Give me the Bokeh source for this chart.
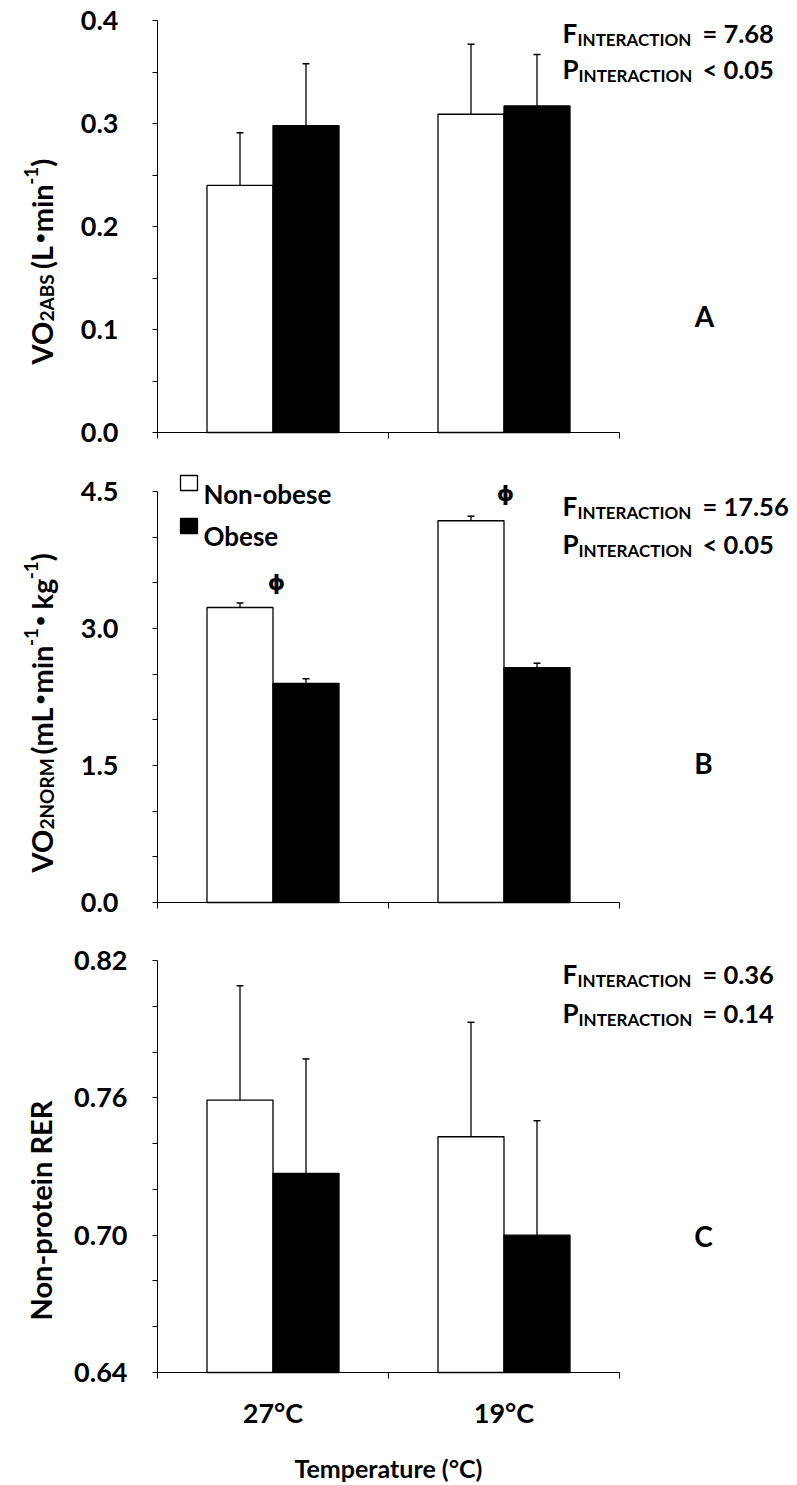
import math
from bokeh.plotting import figure
from bokeh.models import (FixedTicker, Label, Whisker, TeeHead, ColumnDataSource,
                          Range1d, PrintfTickFormatter, BoxAnnotation, LinearAxis)
from bokeh.layouts import column
from bokeh.embed import file_html
from bokeh.resources import INLINE

# ---------------- data ----------------
temps = ["27°C", "19°C"]
groups = ["Non-obese", "Obese"]

vo2abs_nonobese = [0.240, 0.309]
vo2abs_nonobese_err = [0.051, 0.068]
vo2abs_obese = [0.298, 0.317]
vo2abs_obese_err = [0.060, 0.050]

vo2norm_nonobese = [3.23, 4.18]
vo2norm_nonobese_err = [0.05, 0.05]
vo2norm_obese = [2.40, 2.57]
vo2norm_obese_err = [0.05, 0.05]

rer_nonobese = [0.759, 0.743]
rer_nonobese_err = [0.050, 0.050]
rer_obese = [0.727, 0.700]
rer_obese_err = [0.050, 0.050]

stats_a = ["= 7.68", "< 0.05"]
stats_b = ["= 17.56", "< 0.05"]
stats_c = ["= 0.36", "= 0.14"]

yticks_a = [0.0, 0.1, 0.2, 0.3, 0.4]
yminor_a = [0.05, 0.15, 0.25, 0.35]
yticks_b = [0.0, 1.5, 3.0, 4.5]
yminor_b = [0.5, 1.0, 2.0, 2.5, 3.5, 4.0]
yticks_c = [0.64, 0.70, 0.76, 0.82]
yminor_c = [0.66, 0.68, 0.72, 0.74, 0.78, 0.80]

# ---------------- layout constants (pixels) ----------------
FONT = "Lato"
BFONT = "DejaVu Sans"
WIDTH = 797
AX_LEFT, AX_RIGHT = 157, 619           # x axis from category 0 to 2

W = {' ': 0.193, '(': 0.32, ')': 0.32, '-': 0.37, '.': 0.25, '\u2022': 0.59,
     'A': 0.70, 'B': 0.66, 'C': 0.68, 'E': 0.57, 'I': 0.29, 'L': 0.50, 'M': 0.90,
     'N': 0.76, 'O': 0.78, 'R': 0.64, 'S': 0.53, 'V': 0.70, 'e': 0.52, 'g': 0.51,
     'i': 0.25, 'k': 0.53, 'm': 0.83, 'n': 0.56, 'o': 0.56, 'p': 0.56, 'r': 0.39,
     't': 0.37}
for d in "0123456789":
    W[d] = 0.58


def tw(s, size):
    return sum(W.get(c, 0.55) for c in s) * size


class Panel:
    def __init__(self, top, height, y0, y1, ax_top, ax_bottom):
        self.top = top
        self.height = height
        ppu_y = (ax_bottom - ax_top) / (y1 - y0)
        ys = y0 - (top + height - ax_bottom) / ppu_y
        ye = y1 + (ax_top - top) / ppu_y
        ppu_x = (AX_RIGHT - AX_LEFT) / 2.0
        xs = -AX_LEFT / ppu_x
        xe = 2 + (WIDTH - AX_RIGHT) / ppu_x
        self.p = figure(width=WIDTH, height=height, x_range=Range1d(xs, xe),
                        y_range=Range1d(ys, ye), min_border=0, min_border_left=0,
                        min_border_right=0, min_border_top=0, min_border_bottom=0,
                        toolbar_location=None, output_backend="svg", title=None,
                        x_axis_type=None, y_axis_type=None)
        p = self.p
        p.xgrid.visible = False
        p.ygrid.visible = False
        p.outline_line_color = None
        p.background_fill_color = "white"
        p.border_fill_color = "white"
        self.y0, self.y1 = y0, y1

    def lab(self, text, X, Y, size, align="left", baseline="alphabetic", angle=0.0, font=FONT):
        self.p.add_layout(Label(x=X, y=self.top + self.height - Y, x_units="screen",
                                y_units="screen", text=text, text_font=font,
                                text_font_size=f"{size}px", text_font_style="bold",
                                text_align=align, text_baseline=baseline, angle=angle,
                                text_color="black"))

    def vlabel(self, pieces, X, Ybottom):
        y = Ybottom
        for piece in pieces:
            text, size, shift = piece[:3]
            font = piece[3] if len(piece) > 3 else FONT
            lead = len(text) - len(text.lstrip(' '))
            y -= lead * W[' '] * size
            t = text.lstrip(' ')
            self.lab(t, X + shift, y, size, angle=math.pi / 2, font=font)
            y -= tw(t, size)

    def stats(self, vals, y1, y2):
        self.lab("F", 562, y1, 26)
        self.lab("INTERACTION", 577, y1 + 7, 17)
        self.lab(vals[0], 702, y1, 25.5)
        self.lab("P", 562, y2, 26)
        self.lab("INTERACTION", 578, y2 + 7, 17)
        self.lab(vals[1], 702, y2, 25.5)

    def box(self, x0, x1, yt, yb, color):
        H = self.top + self.height
        self.p.add_layout(BoxAnnotation(left=x0, right=x1, top=H - yt, bottom=H - yb,
                                        left_units="screen", right_units="screen",
                                        top_units="screen", bottom_units="screen",
                                        fill_color=color, fill_alpha=1,
                                        line_color="black", line_alpha=1, line_width=1.3))

    def axes(self, ticks, minor, fmt, standoff, bottom_labels=False):
        p = self.p
        ya = LinearAxis(fixed_location=0, bounds=(self.y0, self.y1),
                        ticker=FixedTicker(ticks=ticks, minor_ticks=minor),
                        formatter=PrintfTickFormatter(format=fmt))
        ya.major_tick_in = 0
        ya.major_tick_out = 5
        ya.minor_tick_in = 0
        ya.minor_tick_out = 5
        ya.axis_line_color = "black"
        ya.major_tick_line_color = "black"
        ya.minor_tick_line_color = "black"
        ya.major_label_text_font = FONT
        ya.major_label_text_font_style = "bold"
        ya.major_label_text_font_size = "27px"
        ya.major_label_text_color = "black"
        ya.major_label_standoff = standoff
        p.add_layout(ya, "left")

        if bottom_labels:
            tk = FixedTicker(ticks=[0.5, 1.5], minor_ticks=[0, 1, 2])
        else:
            tk = FixedTicker(ticks=[], minor_ticks=[0, 1, 2])
        xa = LinearAxis(fixed_location=self.y0, bounds=(0, 2), ticker=tk)
        xa.axis_line_color = "black"
        xa.minor_tick_line_color = "black"
        xa.minor_tick_in = 0
        xa.minor_tick_out = 6
        xa.major_tick_in = 0
        xa.major_tick_out = 0
        if bottom_labels:
            xa.major_label_overrides = {0.5: temps[0], 1.5: temps[1]}
            xa.major_label_text_font = FONT
            xa.major_label_text_font_style = "bold"
            xa.major_label_text_font_size = "27px"
            xa.major_label_text_color = "black"
            xa.major_label_standoff = 17
            xa.axis_label = "Temperature (°C)"
            xa.axis_label_text_font = FONT
            xa.axis_label_text_font_style = "bold"
            xa.axis_label_text_font_size = "25px"
            xa.axis_label_text_color = "black"
            xa.axis_label_standoff = 21
        else:
            xa.major_label_text_font_size = "0px"
        p.add_layout(xa, "below")

    def bars(self, nonobese, nonobese_err, obese, obese_err):
        p = self.p
        bw = 2.0 / 7.0
        xs_no = [i + 0.5 - bw / 2 for i in range(len(temps))]
        xs_ob = [i + 0.5 + bw / 2 for i in range(len(temps))]
        src_no = ColumnDataSource(dict(x=xs_no, top=nonobese,
                                       up=[v + e for v, e in zip(nonobese, nonobese_err)]))
        src_ob = ColumnDataSource(dict(x=xs_ob, top=obese,
                                       up=[v + e for v, e in zip(obese, obese_err)]))
        p.vbar(x="x", top="top", bottom=self.y0, width=bw, source=src_no, fill_color="white",
               line_color="black", line_width=1.3)
        p.vbar(x="x", top="top", bottom=self.y0, width=bw, source=src_ob, fill_color="black",
               line_color="black", line_width=1.3)
        for src in (src_no, src_ob):
            p.add_layout(Whisker(base="x", lower="top", upper="up", source=src,
                                 dimension="height", line_color="black", line_width=1.3,
                                 lower_head=None,
                                 upper_head=TeeHead(size=7, line_color="black", line_width=1.5)))


# Panel A
A = Panel(0, 460, 0.0, 0.4, 20, 432)
A.bars(vo2abs_nonobese, vo2abs_nonobese_err, vo2abs_obese, vo2abs_obese_err)
A.axes(yticks_a, yminor_a, "%.1f", 34)
A.vlabel([("VO", 29, 0), ("2ABS", 19, 5), (" (L", 29, 0), ("\u2022", 22, 0, BFONT),
          ("min", 29, 0), ("-1", 19, -11), (")", 29, 0)], 41, 364)
A.stats(stats_a, 32, 68)
A.lab("A", 704, 315, 28, align="center")

# Panel B
B = Panel(460, 470, 0.0, 4.5, 491, 902)
B.bars(vo2norm_nonobese, vo2norm_nonobese_err, vo2norm_obese, vo2norm_obese_err)
B.axes(yticks_b, yminor_b, "%.1f", 34)
B.vlabel([("VO", 29, 0), ("2NORM", 19, 5), (" (mL", 29, 0), ("\u2022", 22, 0, BFONT),
          ("min", 29, 0), ("-1", 19, -11), ("\u2022", 22, 0, BFONT), (" kg", 29, 0),
          ("-1", 19, -11), (")", 29, 0)], 41, 872)
B.stats(stats_b, 505, 543)
B.lab("B", 703, 762, 28, align="center")
B.box(180, 197, 475, 490, "white")
B.box(180, 197, 518, 533, "black")
B.lab(groups[0], 203, 493, 26)
B.lab(groups[1], 203, 535, 26)
B.lab("\u03d5", 276, 582, 22, align="center", baseline="middle", font=BFONT)
B.lab("\u03d5", 505, 493, 22, align="center", baseline="middle", font=BFONT)

# Panel C
C = Panel(930, 555, 0.64, 0.82, 960, 1372)
C.bars(rer_nonobese, rer_nonobese_err, rer_obese, rer_obese_err)
C.axes(yticks_c, yminor_c, "%.2f", 25, bottom_labels=True)
C.vlabel([("Non-protein RER", 29, 0)], 40, 1320)
C.stats(stats_c, 973, 1012)
C.lab("C", 703, 1235, 28, align="center")

layout = column(A.p, B.p, C.p, spacing=0)
open("out.html", "w").write(file_html(layout, INLINE))
